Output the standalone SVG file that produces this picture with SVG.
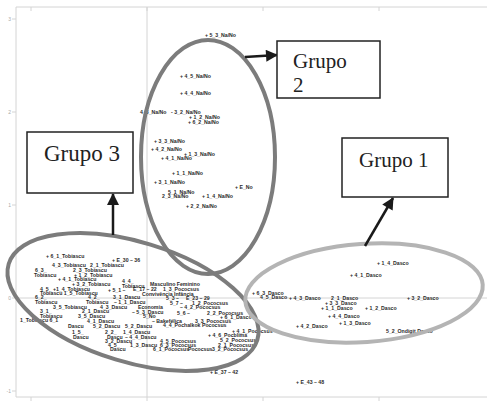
<svg xmlns="http://www.w3.org/2000/svg" width="487" height="404" viewBox="0 0 487 404">
<style>
.ax{stroke:#d4d4d4;stroke-width:1;fill:none}
.tk{font-family:"Liberation Sans",Arial,sans-serif;font-size:5px;fill:#a8a8a8;text-anchor:end}
.lb{font-family:"Liberation Sans",Arial,sans-serif;font-size:5.2px;font-weight:bold;fill:#2a2a2a}
.cl{fill:none;stroke:#7c7c7c;stroke-width:4}
.cl1{fill:none;stroke:#b4b4b4;stroke-width:4}
.box{fill:#fff;stroke:#222;stroke-width:1.5}
.bt{font-family:"Liberation Serif","Times New Roman",serif;font-size:21px;fill:#222}
.ar{stroke:#1a1a1a;stroke-width:2.5;fill:none}
</style>
<defs>
<marker id="ah" viewBox="0 0 12 12" refX="11" refY="6" markerWidth="13" markerHeight="12" markerUnits="userSpaceOnUse" orient="auto">
<path d="M0,0 L12,6 L0,12 z" fill="#1a1a1a"/>
</marker>
</defs>
<rect width="487" height="404" fill="#fff"/>
<g id="axes">
<path class="ax" d="M16,7 H487 M16,7 V397 H487 M16,298 H487 M147,7 V397"/>
<path class="ax" d="M12,19 H16 M12,112 H16 M12,205 H16 M12,298 H16 M12,391 H16 M31,7 V11 M147,7 V11 M263,7 V11 M379,7 V11 M31,397 V401 M147,397 V401 M263,397 V401 M379,397 V401"/>
<text class="tk" x="11" y="21">3</text>
<text class="tk" x="11" y="114">2</text>
<text class="tk" x="11" y="207">1</text>
<text class="tk" x="11" y="300">0</text>
<text class="tk" x="11" y="393">-1</text>
</g>
<g id="labels">
<text class="lb" x="205" y="37">+ 5_3_Na/No</text>
<text class="lb" x="180" y="78">+ 4_5_Na/No</text>
<text class="lb" x="180" y="95">+ 4_4_Na/No</text>
<text class="lb" x="140" y="114">4_3_Na/No</text>
<text class="lb" x="171" y="114">- 3_2_Na/No</text>
<text class="lb" x="189" y="119">+ 1_2_Na/No</text>
<text class="lb" x="188" y="124">+ 6_2_Na/No</text>
<text class="lb" x="154" y="143">+ 3_3_Na/No</text>
<text class="lb" x="151" y="151">+ 4_2_Na/No</text>
<text class="lb" x="184" y="156">+ 1_3_Na/No</text>
<text class="lb" x="161" y="160">+ 4_1_Na/No</text>
<text class="lb" x="172" y="175">+ 1_1_Na/No</text>
<text class="lb" x="154" y="184">+ 3_1_Na/No</text>
<text class="lb" x="235" y="189">+ E_No</text>
<text class="lb" x="168" y="194">5_1_Na/No</text>
<text class="lb" x="162" y="198">2_3_Na/No</text>
<text class="lb" x="202" y="198">+ 1_4_Na/No</text>
<text class="lb" x="186" y="208">+ 2_2_Na/No</text>

<text class="lb" x="46" y="258">+ 6_1_Tobiascu</text>
<text class="lb" x="112" y="262">+ E_30 – 36</text>
<text class="lb" x="52" y="267">4_3_Tobiascu</text>
<text class="lb" x="90" y="267">2_1_Tobiascu</text>
<text class="lb" x="35" y="272">6_3_</text>
<text class="lb" x="73" y="272">2_3_Tobiascu</text>
<text class="lb" x="34" y="277">Tobiascu</text>
<text class="lb" x="74" y="277">+ 1_2_Tobiascu</text>
<text class="lb" x="58" y="281">+ 4_1_Tobiascu</text>
<text class="lb" x="122" y="283">4_4_</text>
<text class="lb" x="72" y="286">+ 3_2_Tobiascu</text>
<text class="lb" x="122" y="288">Tobiascu</text>
<text class="lb" x="150" y="286">Masculino Feminino</text>
<text class="lb" x="40" y="291">4_5_ +1_4_Tobiascu</text>
<text class="lb" x="108" y="292">+ 5_1 –</text>
<text class="lb" x="133" y="291">E_17 – 22</text>
<text class="lb" x="163" y="291">1_3_Pococsus</text>
<text class="lb" x="40" y="295">Tobiascu 1_5_Tobiascu</text>
<text class="lb" x="142" y="296">Convivência Infância</text>
<text class="lb" x="35" y="299">6_2_</text>
<text class="lb" x="88" y="299">4_2_</text>
<text class="lb" x="113" y="299">3_1_Dascu</text>
<text class="lb" x="166" y="300">5_3 –</text>
<text class="lb" x="186" y="300">E_23 – 29</text>
<text class="lb" x="35" y="304">Tobiascu</text>
<text class="lb" x="86" y="304">Tobiascu</text>
<text class="lb" x="114" y="304">– 1_1_Dascu</text>
<text class="lb" x="170" y="305">5_7 –</text>
<text class="lb" x="192" y="305">1_2_Pococsus</text>
<text class="lb" x="53" y="309">3_5_Tobiascu</text>
<text class="lb" x="100" y="309">4_3_Dascu</text>
<text class="lb" x="138" y="309">Economía</text>
<text class="lb" x="180" y="309">– 4_2_Pococsus</text>
<text class="lb" x="40" y="313">3_1_</text>
<text class="lb" x="82" y="313">2_1_Dascu</text>
<text class="lb" x="132" y="314">– 5_3_Dascu</text>
<text class="lb" x="177" y="315">5_6 –</text>
<text class="lb" x="207" y="315">2_2_Pococsus</text>
<text class="lb" x="40" y="318">Tobiascu</text>
<text class="lb" x="78" y="318">3_5_Dascu</text>
<text class="lb" x="143" y="318">5_No</text>
<text class="lb" x="220" y="319">+ 6_1_Dasco</text>
<text class="lb" x="20" y="322">1_Tobiascu 6_1</text>
<text class="lb" x="87" y="323">4_1_Dascu</text>
<text class="lb" x="152" y="323">– Bakefélica</text>
<text class="lb" x="195" y="323">3_3_Pococsus</text>
<text class="lb" x="68" y="328">Dascu</text>
<text class="lb" x="93" y="328">5_2_Dascu</text>
<text class="lb" x="125" y="328">5_2_Dascu</text>
<text class="lb" x="163" y="327">4_4_Pochalkok Pococsus</text>
<text class="lb" x="72" y="334">1_5_</text>
<text class="lb" x="105" y="334">2_2_</text>
<text class="lb" x="123" y="334">1_4_Dascu</text>
<text class="lb" x="232" y="333">+ 4_1_Pococsus</text>
<text class="lb" x="73" y="339">Dascu</text>
<text class="lb" x="107" y="339">Dascu</text>
<text class="lb" x="125" y="339">– 4_4_Dascu</text>
<text class="lb" x="208" y="337">+ 4_6_Pocblima</text>
<text class="lb" x="105" y="343">3_2_Dascu</text>
<text class="lb" x="160" y="343">4_5_Pococsus</text>
<text class="lb" x="220" y="342">5_2_Pococsus</text>
<text class="lb" x="108" y="347">4_5_</text>
<text class="lb" x="130" y="347">1_3_Dascu</text>
<text class="lb" x="160" y="347">6_3_Pococsus</text>
<text class="lb" x="218" y="347">2_1_Pococsus</text>
<text class="lb" x="110" y="351">Dascu</text>
<text class="lb" x="153" y="351">6_1_Pococsus</text>
<text class="lb" x="188" y="351">Pococsus</text>
<text class="lb" x="212" y="351">3_2_Pococsus</text>
<text class="lb" x="210" y="374">+ E_37 – 42</text>
<text class="lb" x="296" y="384">+ E_43 – 48</text>

<text class="lb" x="377" y="265">+ 1_4_Dasco</text>
<text class="lb" x="350" y="277">+ 4_1_Dasco</text>
<text class="lb" x="252" y="295">+ 6_3_Dasco</text>
<text class="lb" x="260" y="299">4_5_Dasco</text>
<text class="lb" x="289" y="300">+ 4_3_Dasco</text>
<text class="lb" x="331" y="300">2_1_Dasco</text>
<text class="lb" x="407" y="300">+ 3_2_Dasco</text>
<text class="lb" x="325" y="305">+ 3_3_Dasco</text>
<text class="lb" x="321" y="310">+ 1_1_Dasco</text>
<text class="lb" x="365" y="310">+ 1_2_Dasco</text>
<text class="lb" x="328" y="318">+ 4_4_Dasco</text>
<text class="lb" x="339" y="325">+ 1_3_Dasco</text>
<text class="lb" x="296" y="328">+ 4_2_Dasco</text>
<text class="lb" x="386" y="333">5_2_Ondigit Dasco</text>
</g>
<g id="cluster2"><ellipse class="cl" cx="208" cy="157" rx="67" ry="117"/></g>
<g id="cluster3"><ellipse class="cl" cx="133" cy="302" rx="130" ry="60" transform="rotate(17 133 302)"/></g>
<g id="cluster1"><ellipse class="cl1" cx="364" cy="293" rx="119" ry="49" transform="rotate(-4 364 293)"/></g>
<g id="connectors">
<line class="ar" x1="245" y1="57" x2="277" y2="55" marker-end="url(#ah)"/>
<line class="ar" x1="365" y1="246" x2="393" y2="198" marker-end="url(#ah)"/>
<line class="ar" x1="113" y1="235" x2="113" y2="194" marker-end="url(#ah)"/>
</g>
<g id="grupo2"><rect class="box" x="277" y="41" width="103" height="57"/><text class="bt" x="293" y="68">Grupo</text><text class="bt" x="293" y="92">2</text></g>
<g id="grupo1"><rect class="box" x="342" y="138" width="106" height="59"/><text class="bt" x="359" y="167">Grupo 1</text></g>
<g id="grupo3"><rect class="box" x="27" y="132" width="106" height="61"/><text class="bt" x="44" y="161" style="font-size:23px">Grupo 3</text></g>
</svg>
